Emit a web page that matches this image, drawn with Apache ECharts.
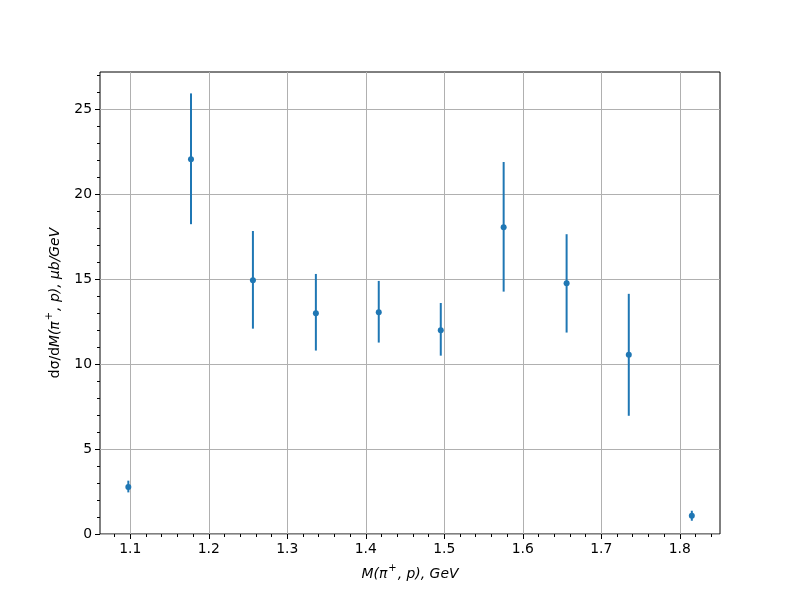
<!DOCTYPE html>
<html>
<head>
<meta charset="utf-8">
<script src="https://cdn.jsdelivr.net/npm/echarts@6/dist/echarts.min.js"></script>
<style>html,body{margin:0;padding:0;background:#fff;}#c{width:800px;height:600px;}</style>
</head>
<body>
<div id="c"></div>
<script>
const xValues = [1.0975, 1.1773, 1.2562, 1.3364, 1.4165, 1.4955, 1.5756, 1.6558, 1.7350, 1.8153];
const yValues = [2.77, 22.06, 14.94, 13.00, 13.06, 12.00, 18.06, 14.76, 10.55, 1.08];
const yLow    = [2.45, 18.24, 12.09, 10.80, 11.27, 10.50, 14.27, 11.86, 6.96, 0.78];
const yHigh   = [3.14, 25.94, 17.84, 15.31, 14.90, 13.60, 21.90, 17.65, 14.14, 1.37];
const xMajorTicks = [1.1, 1.2, 1.3, 1.4, 1.5, 1.6, 1.7, 1.8];
const xMinorTicks = [1.08, 1.12, 1.14, 1.16, 1.18, 1.22, 1.24, 1.26, 1.28, 1.32, 1.34, 1.36, 1.38, 1.42, 1.44, 1.46, 1.48, 1.52, 1.54, 1.56, 1.58, 1.62, 1.64, 1.66, 1.68, 1.72, 1.74, 1.76, 1.78, 1.82, 1.84];
const yMajorTicks = [0, 5, 10, 15, 20, 25];
const yMinorTicks = [1, 2, 3, 4, 6, 7, 8, 9, 11, 12, 13, 14, 16, 17, 18, 19, 21, 22, 23, 24, 26, 27];
const xRange = [1.0614, 1.8512];
const yRange = [0, 27.2];

const C = '#1f77b4';
const font = 'DejaVu Sans';
const chart = echarts.init(document.getElementById('c'), null, {renderer: 'canvas'});

const baseX = {
  type: 'value', min: xRange[0], max: xRange[1], position: 'bottom',
  axisLine: {show: false}
};
const baseY = {
  type: 'value', min: yRange[0], max: yRange[1], position: 'left',
  axisLine: {show: false}
};
const richStyles = {
  n: {fontFamily: font, fontSize: 13.9, color: '#000', lineHeight: 18, verticalAlign: 'bottom'},
  i: {fontFamily: font, fontSize: 13.9, fontStyle: 'italic', color: '#000', lineHeight: 18, verticalAlign: 'bottom'},
  s: {fontFamily: font, fontSize: 10, color: '#000', lineHeight: 10, verticalAlign: 'top', padding: [0, 1, 0, 1]}
};

chart.setOption({
  animation: false,
  grid: {left: 100, right: 80, top: 72, bottom: 66, show: true, borderColor: '#000', borderWidth: 1, backgroundColor: 'transparent'},
  xAxis: [
    Object.assign({}, baseX, {
      name: '{i|M(π}{s|+}{i|, p), GeV}',
      nameLocation: 'middle', nameGap: 29,
      nameTextStyle: {fontFamily: font, fontSize: 13.9, color: '#000', rich: richStyles},
      axisTick: {show: true, customValues: xMajorTicks, length: 5, lineStyle: {color: '#000', width: 1}},
      axisLabel: {show: true, customValues: xMajorTicks, margin: 8, fontFamily: font, fontSize: 13.9, color: '#000',
        formatter: v => (Math.round(v * 10) / 10).toString()},
      splitLine: {show: true, lineStyle: {color: '#b0b0b0', width: 1}}
    }),
    Object.assign({}, baseX, {
      axisTick: {show: true, customValues: xMinorTicks, length: 3, lineStyle: {color: '#000', width: 1}},
      axisLabel: {show: false},
      splitLine: {show: false}
    })
  ],
  yAxis: [
    Object.assign({}, baseY, {
      name: '{n|dσ/d}{i|M(π}{s|+}{i|, p), μb/GeV}',
      nameLocation: 'middle', nameGap: 38, nameRotate: 90,
      nameTextStyle: {fontFamily: font, fontSize: 13.9, color: '#000', rich: richStyles},
      axisTick: {show: true, customValues: yMajorTicks, length: 5, lineStyle: {color: '#000', width: 1}},
      axisLabel: {show: true, customValues: yMajorTicks, margin: 8, fontFamily: font, fontSize: 13.9, color: '#000'},
      splitLine: {show: true, lineStyle: {color: '#b0b0b0', width: 1}}
    }),
    Object.assign({}, baseY, {
      axisTick: {show: true, customValues: yMinorTicks, length: 3, lineStyle: {color: '#000', width: 1}},
      axisLabel: {show: false},
      splitLine: {show: false}
    })
  ],
  series: [
    {
      type: 'custom',
      xAxisIndex: 0, yAxisIndex: 0,
      data: xValues.map((x, i) => [x, yLow[i], yHigh[i]]),
      renderItem: function (params, api) {
        const p1 = api.coord([api.value(0), api.value(1)]);
        const p2 = api.coord([api.value(0), api.value(2)]);
        return {
          type: 'line',
          shape: {x1: p1[0], y1: p1[1], x2: p2[0], y2: p2[1]},
          style: {stroke: C, lineWidth: 2}
        };
      },
      z: 3
    },
    {
      type: 'scatter',
      xAxisIndex: 0, yAxisIndex: 0,
      data: xValues.map((x, i) => [x, yValues[i]]),
      symbol: 'circle', symbolSize: 6,
      itemStyle: {color: C, opacity: 1},
      z: 4
    }
  ]
});
</script>
</body>
</html>
